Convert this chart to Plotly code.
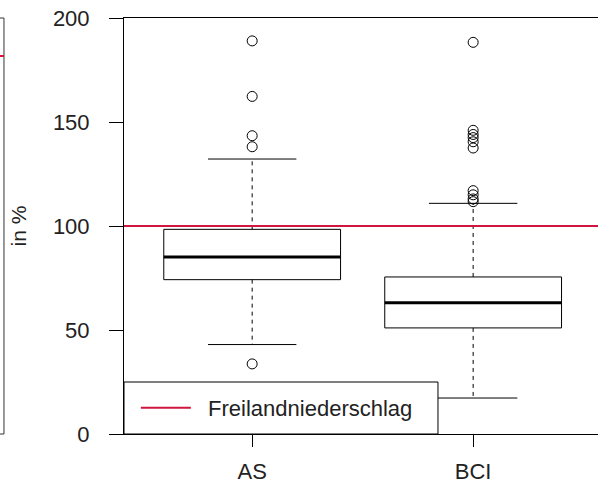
import plotly.graph_objects as go

# ---- data ----
categories = ["AS", "BCI"]
q1 = [74.2, 51.0]
median = [85.1, 63.1]
q3 = [98.4, 75.5]
whisker_low = [43.0, 17.3]
whisker_high = [132.2, 110.9]
outliers_as = [189.0, 162.3, 143.4, 138.1, 33.7]
outliers_bci = [188.3, 146.0, 144.0, 142.5, 140.5, 137.5, 117.0, 115.0, 113.0, 111.7]
reference_level = 100
legend_label = "Freilandniederschlag"
y_ticks = [0, 50, 100, 150, 200]
y_title = "in %"

outliers = [outliers_as, outliers_bci]
BOXW = 0.4      # half box width (R boxwex 0.8)
STAPLE = 0.2    # half staple width
FONT = "Liberation Sans, Arial, sans-serif"
RED = "#D0163F"
FS = 22

fig = go.Figure()
for i, cat in enumerate(categories):
    x = i + 1
    fig.add_trace(go.Scatter(
        x=[x - BOXW, x + BOXW, x + BOXW, x - BOXW, x - BOXW],
        y=[q1[i], q1[i], q3[i], q3[i], q1[i]],
        mode="lines", line=dict(color="black", width=1),
        showlegend=False, hoverinfo="skip"))
    fig.add_trace(go.Scatter(
        x=[x - BOXW, x + BOXW], y=[median[i], median[i]],
        mode="lines", line=dict(color="black", width=3),
        showlegend=False, hoverinfo="skip"))
    fig.add_trace(go.Scatter(
        x=[x, x, None, x, x],
        y=[q3[i], whisker_high[i], None, q1[i], whisker_low[i]],
        mode="lines", line=dict(color="black", width=1, dash="4px,4px"),
        showlegend=False, hoverinfo="skip"))
    fig.add_trace(go.Scatter(
        x=[x - STAPLE, x + STAPLE, None, x - STAPLE, x + STAPLE],
        y=[whisker_high[i], whisker_high[i], None, whisker_low[i], whisker_low[i]],
        mode="lines", line=dict(color="black", width=1),
        showlegend=False, hoverinfo="skip"))
    fig.add_trace(go.Scatter(
        x=[x] * len(outliers[i]), y=outliers[i],
        mode="markers",
        marker=dict(symbol="circle-open", size=10, color="black", line=dict(width=1)),
        showlegend=False))

# reference line with legend entry
fig.add_shape(type="line", xref="x domain", x0=0, x1=1,
              y0=reference_level, y1=reference_level,
              line=dict(color=RED, width=2), layer="above",
              showlegend=True, name="\u00a0\u00a0" + legend_label)

# legend frame (opaque, like R's legend box)
fig.add_shape(type="rect", xref="paper", yref="paper",
              x0=0, x1=0.6624, y0=0, y1=0.125,
              fillcolor="white", line=dict(color="black", width=1), layer="above")

# remnants of neighbouring panel on the left (decoration)
lx = -0.2532
fig.add_shape(type="line", xref="paper", yref="paper", x0=lx, x1=lx, y0=0, y1=1,
              line=dict(color="#333", width=1))
fig.add_shape(type="line", xref="paper", yref="paper", x0=-0.27, x1=lx, y0=1, y1=1,
              line=dict(color="#333", width=1))
fig.add_shape(type="line", xref="paper", yref="paper", x0=-0.27, x1=lx, y0=0, y1=0,
              line=dict(color="#333", width=1))
fig.add_shape(type="line", xref="paper", yref="paper", x0=-0.27, x1=lx, y0=0.9087, y1=0.9087,
              line=dict(color=RED, width=2))

fig.update_layout(
    width=598, height=484,
    margin=dict(l=124, r=0, t=18, b=50),
    paper_bgcolor="white", plot_bgcolor="white",
    font=dict(family=FONT, size=FS, color="#222"),
    showlegend=True,
    legend=dict(x=0.025, y=0.0625, xanchor="left", yanchor="middle",
                bgcolor="rgba(0,0,0,0)", borderwidth=0,
                font=dict(size=FS), itemwidth=50),
)
fig.update_xaxes(
    range=[0.42, 2.565], tickvals=[1, 2], ticktext=categories,
    showgrid=False, zeroline=False, automargin=False,
    showline=True, linecolor="black", linewidth=1, mirror=True,
    ticks="outside", ticklen=12, tickcolor="black", ticklabelstandoff=6,
)
fig.update_yaxes(
    range=[0, 200], tickvals=y_ticks,
    showgrid=False, zeroline=False, automargin=False,
    showline=True, linecolor="black", linewidth=1,
    ticks="outside", ticklen=14, tickcolor="black", ticklabelstandoff=15,
    title=dict(text=y_title, standoff=20, font=dict(size=21)),
)

fig.write_html("out.html", config={"displayModeBar": False},
               post_script="document.body.style.margin='0';")
